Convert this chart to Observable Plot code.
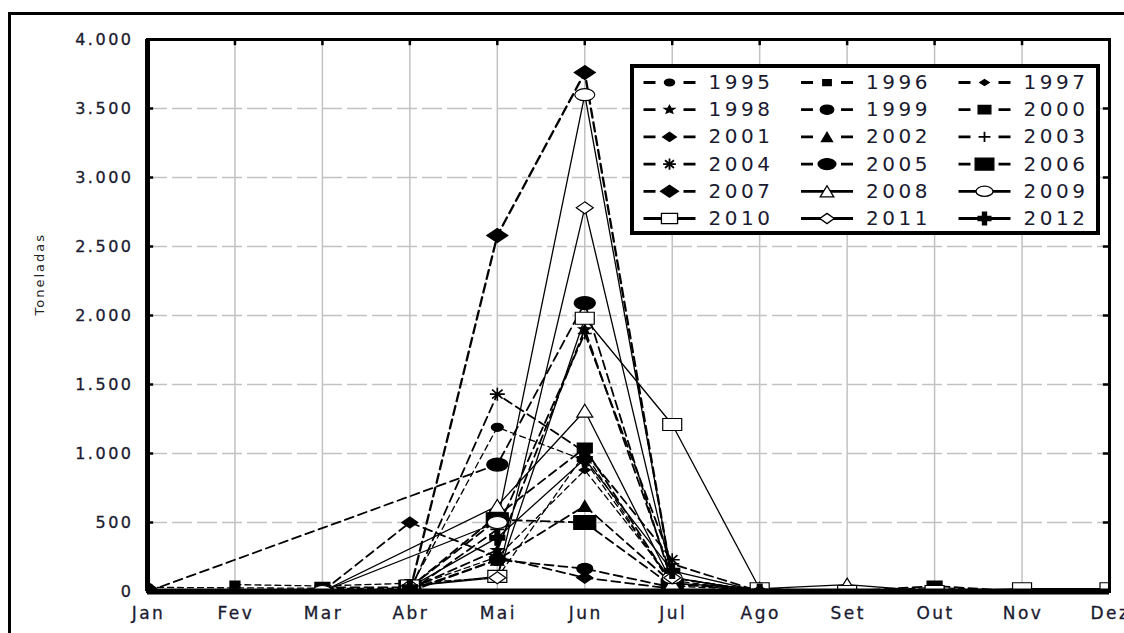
<!DOCTYPE html>
<html><head><meta charset="utf-8">
<script src="https://cdn.jsdelivr.net/npm/d3@7"></script>
<script src="https://cdn.jsdelivr.net/npm/@observablehq/plot@0.6"></script>
<style>
html,body{margin:0;padding:0;background:#fff;}
body{width:1124px;height:633px;overflow:hidden;position:relative;font-family:"DejaVu Sans",sans-serif;}
#outer{position:absolute;left:8px;top:12px;width:1200px;height:700px;border:3px solid #000;box-sizing:border-box;}
#chart{position:absolute;left:0;top:0;}
#legend{position:absolute;left:630px;top:64px;width:470px;height:171px;border:4px solid #000;box-sizing:border-box;background:#fff;}
</style></head><body>
<div id="outer"></div><div id="chart"></div><div id="legend"></div>
<script>
// ---- data ----
const months = ["Jan","Fev","Mar","Abr","Mai","Jun","Jul","Ago","Set","Out","Nov","Dez"];
const yTicks = [0,500,1000,1500,2000,2500,3000,3500,4000];
const years = [1995,1996,1997,1998,1999,2000,2001,2002,2003,2004,2005,2006,2007,2008,2009,2010,2011,2012];
const _ = null;
const v1995 = [30, _, _, 20, 1190, 950, 60, 0, _, _, _, _];
const v1996 = [_, 50, 40, 60, 100, 1000, 40, 10, 0, 30, 0, 0];
const v1997 = [0, 0, 0, 30, 250, 880, 80, 0, 0, 0, 0, 0];
const v1998 = [_, _, _, 20, 300, 1900, 100, 0, _, _, _, _];
const v1999 = [_, _, _, 10, 230, 165, 30, _, _, _, _, _];
const v2000 = [_, _, 30, 30, 550, 1040, 50, 20, 0, 40, 0, 0];
const v2001 = [_, _, 0, 500, 250, 100, 20, _, _, _, _, _];
const v2002 = [_, _, _, 0, 230, 620, 60, _, _, _, _, _];
const v2003 = [_, _, _, 0, 450, 1870, 200, 0, _, _, _, _];
const v2004 = [_, _, _, 0, 1430, 1010, 230, _, _, _, _, _];
const v2005 = [0, _, _, _, 920, 2090, 60, _, _, _, _, _];
const v2006 = [_, _, _, 30, 520, 500, 40, _, _, _, _, _];
const v2007 = [_, _, _, 0, 2580, 3760, 80, _, _, _, _, _];
const v2008 = [_, _, 0, _, 620, 1310, 60, 20, 50, 0, _, _];
const v2009 = [_, _, 0, _, 500, 3600, 100, 0, _, _, _, _];
const v2010 = [_, _, _, 40, 110, 1980, 1210, 20, 0, 0, 20, 20];
const v2011 = [_, _, _, 40, 100, 2780, 100, 0, _, _, _, _];
const v2012 = [_, _, _, 30, 390, 960, 150, 0, _, _, _, _];
const valuesByYear = [v1995,v1996,v1997,v1998,v1999,v2000,v2001,v2002,v2003,v2004,v2005,v2006,v2007,v2008,v2009,v2010,v2011,v2012];

// ---- styles ----
function sym(type, w, h){
  const a = w/2, b = h/2;
  return {draw(ctx){
    if (type === "ellipse") {
      const k = 0.5523;
      ctx.moveTo(a,0); ctx.bezierCurveTo(a,b*k,a*k,b,0,b); ctx.bezierCurveTo(-a*k,b,-a,b*k,-a,0);
      ctx.bezierCurveTo(-a,-b*k,-a*k,-b,0,-b); ctx.bezierCurveTo(a*k,-b,a,-b*k,a,0); ctx.closePath();
    } else if (type === "rect") {
      ctx.rect(-a,-b,w,h);
    } else if (type === "diamond") {
      ctx.moveTo(0,-b); ctx.lineTo(a,0); ctx.lineTo(0,b); ctx.lineTo(-a,0); ctx.closePath();
    } else if (type === "triangle") {
      ctx.moveTo(0,-b); ctx.lineTo(a,b); ctx.lineTo(-a,b); ctx.closePath();
    } else if (type === "plus") {
      ctx.moveTo(-a,0); ctx.lineTo(a,0); ctx.moveTo(0,-b); ctx.lineTo(0,b);
    } else if (type === "asterisk") {
      ctx.moveTo(-a,0); ctx.lineTo(a,0); ctx.moveTo(0,-b); ctx.lineTo(0,b);
      ctx.moveTo(-a*0.7,-b*0.7); ctx.lineTo(a*0.7,b*0.7); ctx.moveTo(-a*0.7,b*0.7); ctx.lineTo(a*0.7,-b*0.7);
    } else if (type === "star") {
      for (let i = 0; i < 10; i++) {
        const ang = -Math.PI/2 + i*Math.PI/5, r = i % 2 ? 0.45 : 1;
        const px = Math.cos(ang)*a*r, py = Math.sin(ang)*b*r;
        i ? ctx.lineTo(px,py) : ctx.moveTo(px,py);
      }
      ctx.closePath();
    } else if (type === "cross") {
      const t = w*0.16, s = h*0.16;
      ctx.moveTo(-t,-b); ctx.lineTo(t,-b); ctx.lineTo(t,-s); ctx.lineTo(a,-s); ctx.lineTo(a,s); ctx.lineTo(t,s);
      ctx.lineTo(t,b); ctx.lineTo(-t,b); ctx.lineTo(-t,s); ctx.lineTo(-a,s); ctx.lineTo(-a,-s); ctx.lineTo(-t,-s); ctx.closePath();
    }
  }};
}
// per series: marker type, width, height, fill
const markerSpec = [
  ["ellipse",12,8,"black"], ["rect",10,7,"black"], ["diamond",11,7,"black"],
  ["star",13,10,"black"], ["ellipse",16,11,"black"], ["rect",15,10,"black"],
  ["diamond",16,11,"black"], ["triangle",13,11,"black"], ["plus",14,12,"none"],
  ["asterisk",15,13,"none"], ["ellipse",21,13,"black"], ["rect",22,14,"black"],
  ["diamond",21,14,"black"], ["triangle",16,13,"white"], ["ellipse",20,12,"white"],
  ["rect",19,12,"white"], ["diamond",17,12,"white"], ["cross",15,15,"black"]
];
const lineDash = years.map(y => y <= 1997 ? "6,4" : y <= 2007 ? "9,5" : null);
const lineWidth = years.map(y => y <= 1997 ? 1.3 : y === 2007 ? 2.3 : y <= 2007 ? 1.8 : 1.3);

// ---- table ----
const rows = [];
years.forEach((yr, i) => valuesByYear[i].forEach((v, m) => { if (v != null) rows.push({year: yr, m, v}); }));
const fmt = d => d3.format(",")(d).replace(/,/g, ".");
const xIdx = d3.range(12);

const lineMarks = years.map((yr, i) => Plot.line(rows.filter(r => r.year === yr), {
  x: "m", y: "v", stroke: "black", strokeWidth: lineWidth[i], strokeDasharray: lineDash[i], clip: true
}));
const dotMarks = years.map((yr, i) => {
  const [t, w, h, f] = markerSpec[i];
  return Plot.dot(rows.filter(r => r.year === yr), {
    x: "m", y: "v", r: 5, symbol: sym(t, w, h), fill: f, stroke: "black",
    strokeWidth: (t === "plus" || t === "asterisk") ? 1.6 : 1.2, clip: true
  });
});

const chart = Plot.plot({
  width: 1124, height: 633,
  marginLeft: 147, marginRight: 15, marginTop: 39, marginBottom: 42,
  x: {type: "linear", domain: [0, 11], label: null},
  y: {domain: [0, 4000], label: null},
  style: {fontFamily: "'DejaVu Sans', sans-serif", fontSize: "16px", color: "#1a1a30", background: "transparent"},
  marks: [
    Plot.gridX(xIdx, {stroke: "#c2c2c2", strokeOpacity: 1, strokeWidth: 1.5}),
    Plot.gridY(yTicks, {stroke: "#c2c2c2", strokeOpacity: 1, strokeWidth: 1.5, strokeDasharray: "20,5"}),
    ...lineMarks,
    ...dotMarks,
    Plot.frame({stroke: "black", strokeWidth: 3}),
    Plot.ruleX([0], {stroke: "black", strokeWidth: 5}),
    Plot.ruleY([0], {stroke: "black", strokeWidth: 6}),
    Plot.ruleX(xIdx, {y1: 4000, y2: 3955, stroke: "black", strokeWidth: 2.5}),
    Plot.ruleY(yTicks, {x1: 11, x2: 10.93, stroke: "black", strokeWidth: 2.5}),
    Plot.ruleY(yTicks, {x1: 0, x2: 0.07, stroke: "black", strokeWidth: 2.5}),
    Plot.axisX(xIdx, {tickFormat: i => months[i], tickSize: 0, tickPadding: 15, dx: 1, fontSize: 17, label: null}),
    Plot.axisY(yTicks, {tickFormat: fmt, tickSize: 0, tickPadding: 14, label: null}),
    Plot.text(["Toneladas"], {frameAnchor: "left", dx: -108, rotate: -90, fontSize: 13, fill: "#222"})
  ]
});
chart.querySelectorAll("text").forEach(t => { t.style.letterSpacing = "2.5px"; t.style.stroke = "currentColor"; t.style.strokeWidth = "0.3px"; });
chart.querySelectorAll('g[aria-label="text"] text').forEach(t => { t.style.letterSpacing = "2px"; t.style.strokeWidth = "0px"; });
document.getElementById("chart").appendChild(chart);

// ---- legend ----
const entries = years.map((yr, i) => {
  const col = i % 3, row = Math.floor(i / 3);
  const x1 = 9 + 157.5 * col;
  return {yr, i, x1, x2: x1 + 52, xm: x1 + 26, xt: x1 + 65, y: 14 + 27.2 * row};
});
const legend = Plot.plot({
  width: 462, height: 163, margin: 0,
  x: {domain: [0, 462], range: [0, 462], axis: null},
  y: {domain: [0, 163], range: [0, 163], axis: null},
  style: {fontFamily: "'DejaVu Sans', sans-serif", background: "transparent", color: "#1a1a30"},
  marks: [
    Plot.link(entries.filter(e => lineDash[e.i]), {x1: "x1", x2: "x2", y1: "y", y2: "y", stroke: "black", strokeWidth: 2.8, strokeDasharray: "12,28"}),
    Plot.link(entries.filter(e => !lineDash[e.i]), {x1: "x1", x2: "x2", y1: "y", y2: "y", stroke: "black", strokeWidth: 2.8}),
    ...entries.map(e => {
      const [t, w, h, f] = markerSpec[e.i];
      return Plot.dot([e], {x: "xm", y: "y", r: 5, symbol: sym(t, w * 0.85, h * 0.85), fill: f, stroke: "black",
        strokeWidth: (t === "plus" || t === "asterisk") ? 1.8 : 1.3});
    }),
    Plot.text(entries, {x: "xt", y: "y", text: d => String(d.yr), textAnchor: "start", fontSize: 20, fill: "#1a1a30"})
  ]
});
legend.querySelectorAll("text").forEach(t => t.style.letterSpacing = "3.5px");
document.getElementById("legend").appendChild(legend);
</script>
</body></html>
